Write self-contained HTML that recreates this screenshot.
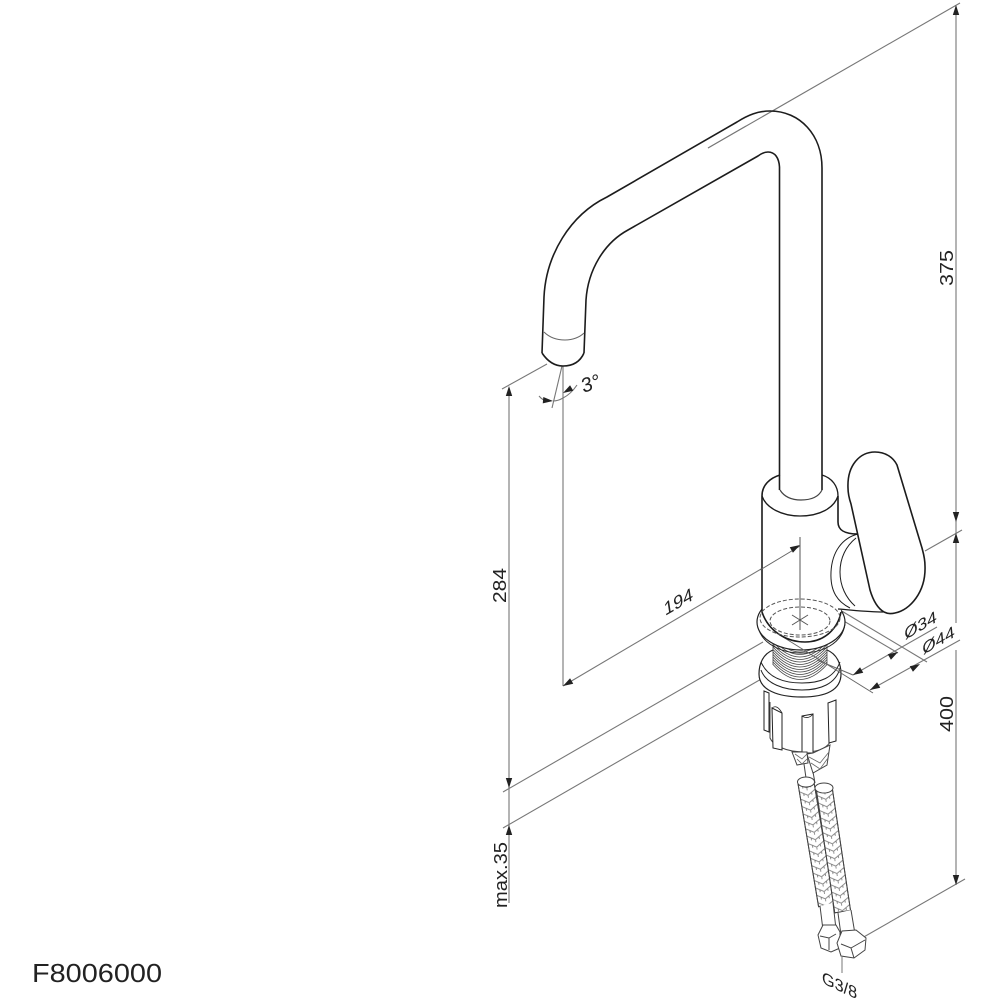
<!DOCTYPE html>
<html><head><meta charset="utf-8"><style>
html,body{margin:0;padding:0;background:#fff;width:1000px;height:1000px;overflow:hidden}
svg{display:block}
text{font-family:"Liberation Sans",sans-serif;fill:#222}
</style></head><body>
<svg width="1000" height="1000" viewBox="0 0 1000 1000" xmlns="http://www.w3.org/2000/svg">
<defs>
<pattern id="braid" x="-8" y="0" width="16" height="7.500" patternUnits="userSpaceOnUse">
<path d="M0 0L8 5L16 0M0 7.500L8 12.500L16 7.500M0 -7.500L8 -2.500L16 -7.500M8 5V7.500M4 2.500L4 5M12 2.500L12 5" fill="none" stroke="#777" stroke-width=".8"/>
</pattern>
<g id="ah"><path d="M0 0L-3.200 10L3.200 10Z" fill="#222"/></g>
</defs>

<!-- dimension lines -->
<g stroke="#777" stroke-width="1.100" fill="none">
<path d="M708 148L960 3"/>
<path d="M956 6V623M956 650V885"/>
<path d="M925 551L962 530"/>
<path d="M862 938L965 879"/>
<path d="M502 389L547 364"/>
<path d="M509 388V903"/>
<path d="M503 792L763 642"/>
<path d="M503 828L763 678"/>
<path d="M563 366V686"/>
<path d="M552 408L562 366"/>
<path d="M539 396Q543 401 548 401M553 401Q558 401 563 398Q571 394 577 385"/>
<path d="M563 686L800 546"/>
<path d="M820 607L898 653M840 610L927 662"/>
<path d="M853 675L937 627M870 690L960 640"/>
</g>

<!-- lower nut and fins -->
<g fill="none" stroke="#222" stroke-width="1.200">
<path d="M770 702V738C773 745 785 752 805 752C820 752 829 747 832 738V702" fill="#fff" stroke-width="1" stroke="#444"/>
<path d="M764 691L769 693V732L764 730Z" fill="#fff" stroke-width="1"/>
<path d="M772 708L782 713V750L773 748Z" fill="#fff" stroke-width="1"/>
<path d="M772 708Q777 704 782 713" stroke-width=".8"/>
<path d="M802 716L813 714V753L802 753Z" fill="#fff" stroke-width="1"/>
<path d="M802 716Q808 720 813 714" stroke-width=".8"/>
<path d="M828 703L836 700V741L829 743Z" fill="#fff" stroke-width="1"/>
<!-- lower flange -->
<path d="M773 650C763 654 759 664 759 674C759 690 778 697 802 697C826 697 841 690 841 674C841 664 837 654 827 650" fill="#fff"/>
<path d="M761 670C766 684 784 690 802 690C820 690 836 684 840 668" stroke-width="1"/>
<path d="M761 662C768 678 784 683 802 683C820 683 834 678 840 662" stroke-width="1"/>
</g>

<!-- threads -->
<g stroke="#444" stroke-width=".8" fill="none">
<path d="M773 640V665M827 640V665"/>
<path d="M773 637Q800 667 827 637M773 639.500Q800 669.500 827 639.500M773 642Q800 672 827 642M773 644.500Q800 674.500 827 644.500M773 647Q800 677 827 647M773 649.500Q800 679.500 827 649.500M773 652Q800 682 827 652M773 654.500Q800 684.500 827 654.500M773 657Q800 687 827 657M773 659.500Q800 689.500 827 659.500M773 662Q800 692 827 662M773 664.500Q800 694.500 827 664.500"/>
</g>

<!-- upper flange -->
<g fill="none" stroke="#222" stroke-width="1.200">
<path d="M758 626C761 644 782 653 801 653C822 653 842 644 845 624" stroke-width="1"/>
<ellipse cx="801" cy="622" rx="44" ry="28" fill="#fff"/>
</g>

<!-- extension lines passing over base -->
<g stroke="#666" stroke-width="1" fill="none">
<path d="M783 637L873 693M817 660L853 675"/>
</g>

<!-- body -->
<g fill="none" stroke="#1c1c1c" stroke-width="1.600" stroke-linejoin="round">
<path d="M762 496V612C768 630 785 642 805 642C825 642 838 628 841 612L838 496C834 486 832 478 822 475H780C770 478 762 485 762 496Z" fill="#fff" stroke="none"/>
<path d="M780 475C770 478 762 485 762 496V612C768 630 785 642 805 642C825 642 838 628 841 612"/>
<path d="M762 496C766 508 782 516 800 516C820 516 834 508 838 496C838 486 832 478 822 475" stroke-width="1.300"/>
<path d="M838 496V522C838 530 844 534 858 534"/>

<!-- spout -->
<path d="M542 353L544 297C546 255 570 215 607 197L737 122C748 115 758 111 770 111C800 111 822 135 822 168V490"/>
<path d="M584 353L586 300C588 270 604 243 628 230L758 156C762 153 765 152 768 152C775 152 779 158 779.500 167V490"/>
<path d="M542 353C548 362 555 366 563 366C573 366 580 362 584 353"/>
<path d="M544 332C550 338 558 340 565 340C573 340 580 337 584 333" stroke-width="1" stroke="#666"/>
<path d="M780 490C785 498 793 500 801 500C810 500 818 498 822 490" stroke-width="1.200" stroke="#444"/>

<!-- handle -->
<path d="M858 534C842 538 832 552 831 572C830 592 838 602 850 608" stroke-width="1"/>
<path d="M856 538C846 546 840 558 840 572C840 586 846 598 855 606" stroke-width="1"/>
<path d="M838 609C852 610 868 612 883 612" stroke-width="1.300"/>
<path d="M875 452C860 452 847 465 848 488C848 494 849 498 851 504L870 590C873 600 877 608 884 612C888 614 891 614 895 613C910 610 926 592 925 566C925 558 923 552 922 548L897 465C893 457 885 452 875 452Z" fill="#fff"/>
</g>

<!-- dashed circles + cross -->
<g fill="none" stroke="#555" stroke-width="1">
<ellipse cx="800" cy="618" rx="40" ry="19" stroke-dasharray="4 2"/>
<ellipse cx="800" cy="621" rx="30" ry="14" stroke-dasharray="4 2"/>
<path d="M792 615L808 625M808 615L792 625M800 537V630"/>
<path d="M708 148L746 126" stroke="#777"/>
<path d="M760 570L800 546" stroke="#666"/>
</g>

<!-- arrowheads -->
<use href="#ah" transform="translate(956,5)"/>
<use href="#ah" transform="translate(956,522) rotate(180)"/>
<use href="#ah" transform="translate(956,533)"/>
<use href="#ah" transform="translate(956,885) rotate(180)"/>
<use href="#ah" transform="translate(509,386)"/>
<use href="#ah" transform="translate(509,788) rotate(180)"/>
<use href="#ah" transform="translate(509,825)"/>
<use href="#ah" transform="translate(563,686) rotate(240)"/>
<use href="#ah" transform="translate(800,545) rotate(60)"/>
<use href="#ah" transform="translate(553,401) rotate(95)"/>
<use href="#ah" transform="translate(563,393) rotate(-120)"/>
<use href="#ah" transform="translate(853,675) rotate(240)"/>
<use href="#ah" transform="translate(898,652) rotate(60)"/>
<use href="#ah" transform="translate(870,690) rotate(240)"/>
<use href="#ah" transform="translate(920,664) rotate(60)"/>

<!-- upper short braid -->
<g stroke="#444" stroke-width="1">
<path d="M792 752L797 765L808 763L807 752Z" fill="#fff"/>
<path d="M795 754L802 759L807 754M797 759L802 764L807 759" fill="none" stroke="#666" stroke-width=".8"/>
<path d="M807 754L813 773L827 765L830 745L813 753Z" fill="#fff"/>
<path d="M809 757L820 763L829 752M811 763L820 769L828 758" fill="none" stroke="#666" stroke-width=".8"/>
<path d="M804 764L806 778M813 772L815 783" fill="none"/>
</g>

<!-- hoses -->
<g stroke="#444" stroke-width="1">
<g transform="translate(806,783) rotate(-9.500)">
<rect x="-8" y="0" width="16" height="124" fill="#fff"/>
<rect x="-8" y="0" width="16" height="124" fill="url(#braid)"/>
</g>
<g transform="translate(824,787) rotate(-8.500)">
<rect x="-8" y="0" width="16" height="126" fill="#fff"/>
<rect x="-8" y="0" width="16" height="126" fill="url(#braid)"/>
</g>
<ellipse cx="806" cy="782" rx="8.500" ry="5" fill="#fff"/>
<ellipse cx="824" cy="788" rx="9" ry="5" fill="#fff"/>
<path d="M820 906L823 930Q829 933 836 929L833 903" fill="#fff"/>
<path d="M838 913L841 935Q847 939 855 934L851 910" fill="#fff"/>
<path d="M823 925L818 935L821 948L831 952L840 948L840 932L836 925Z" fill="#fff"/>
<path d="M842 931L837 943L841 956L854 958L865 950L866 938L856 930Z" fill="#fff"/>
<path d="M841 944L851 948L865 940M851 948L854 958" fill="none"/>
<path d="M820 936L829 938L836 934M829 938L829 950" fill="none"/>
<path d="M842 957V973" fill="none" stroke="#777"/>
</g>

<!-- labels -->
<text transform="translate(953,286) rotate(-90)" font-size="18.500" textLength="36" lengthAdjust="spacingAndGlyphs">375</text>
<text transform="translate(506,603) rotate(-90)" font-size="18.500" textLength="35" lengthAdjust="spacingAndGlyphs">284</text>
<text transform="translate(953,732) rotate(-90)" font-size="18.500" textLength="36" lengthAdjust="spacingAndGlyphs">400</text>
<text transform="translate(507,908) rotate(-90)" font-size="18.500" textLength="66" lengthAdjust="spacingAndGlyphs">max.35</text>
<text transform="matrix(.866,-.5,.15,1,665,616)" font-size="18" textLength="33" lengthAdjust="spacingAndGlyphs">194</text>
<text transform="matrix(.95,-.3,.2,1,583,393)" font-size="20">3°</text>
<text transform="matrix(.866,-.5,.1,1,905,640)" font-size="16.500" textLength="37" lengthAdjust="spacingAndGlyphs">Ø34</text>
<text transform="matrix(.866,-.5,.1,1,923,655)" font-size="16.500" textLength="37" lengthAdjust="spacingAndGlyphs">Ø44</text>
<text transform="matrix(.9,.42,0,1,822,983)" font-size="17" textLength="39" lengthAdjust="spacingAndGlyphs">G3/8</text>
<text x="32" y="982" font-size="26" textLength="130" lengthAdjust="spacingAndGlyphs">F8006000</text>
</svg>
</body></html>
